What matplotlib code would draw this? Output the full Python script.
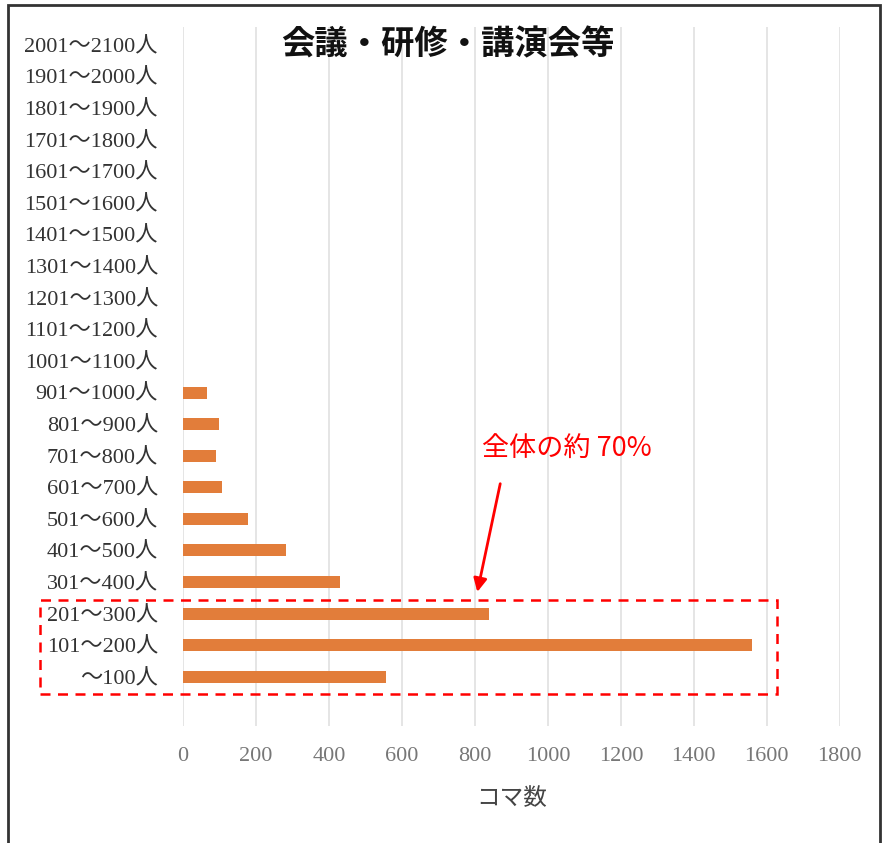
import matplotlib.pyplot as plt
from matplotlib.patches import Rectangle

# 参加人数の区分 (下から上へ)
categories = ['～100人', '101～200人', '201～300人', '301～400人', '401～500人',
              '501～600人', '601～700人', '701～800人', '801～900人', '901～1000人',
              '1001～1100人', '1101～1200人', '1201～1300人', '1301～1400人',
              '1401～1500人', '1501～1600人', '1601～1700人', '1701～1800人',
              '1801～1900人', '1901～2000人', '2001～2100人']
counts = [555, 1560, 838, 431, 283, 179, 107, 91, 99, 66,
          0, 0, 0, 0, 0, 0, 0, 0, 0, 0, 0]
xticks = [0, 200, 400, 600, 800, 1000, 1200, 1400, 1600, 1800]

serif = ['Liberation Serif', 'Noto Sans CJK JP']
gothic = ['Noto Sans CJK JP', 'DejaVu Sans']

fig = plt.figure(figsize=(8.84, 8.43), dpi=100)
ax = fig.add_axes([0.207, 0.139, 0.743, 0.829])

y = list(range(len(categories)))
ax.barh(y, counts, height=0.38, color='#E27D3A', zorder=3)

ax.set_xlim(0, 1800)
ax.set_ylim(-1.55, 20.57)
ax.set_xticks(xticks)
ax.set_xticklabels([str(t) for t in xticks], family=serif, fontsize=16, color='#777777')
ax.set_yticks(y)
ax.set_yticklabels(categories, family=serif, fontsize=16, color='#333333')
ax.tick_params(axis='both', length=0)
ax.tick_params(axis='y', pad=18)
ax.tick_params(axis='x', pad=15)
ax.grid(axis='x', color='#e0e0e0', linewidth=1.2, zorder=0)
for s in ax.spines.values():
    s.set_visible(False)

ax.set_xlabel('コマ数', family=serif, fontsize=17, color='#444444', labelpad=16)
ax.text(725, 20, '会議・研修・講演会等', family=gothic, fontsize=24,
        fontweight='bold', ha='center', va='center', color='#111111')

# 注記
ax.add_patch(Rectangle((-393, -0.55), 2020, 2.99, fill=False, edgecolor='red',
                       linestyle=(0, (4, 3)), linewidth=1.8, clip_on=False, zorder=4))
ax.annotate('', xy=(805, 2.6), xytext=(871, 6.2),
            arrowprops=dict(arrowstyle='-|>', color='red', lw=2, mutation_scale=20),
            zorder=5)
ax.text(1052, 7.2, '全体の約 70%', family=gothic, fontsize=19.5, color='red',
        ha='center', va='center')

# 外枠
fig.add_artist(Rectangle((8 / 884, -0.05), 872 / 884, 1.05 - 5 / 843,
                         transform=fig.transFigure, fill=False,
                         edgecolor='#333333', linewidth=2))

fig.savefig('out.png', dpi=100, facecolor='white')
